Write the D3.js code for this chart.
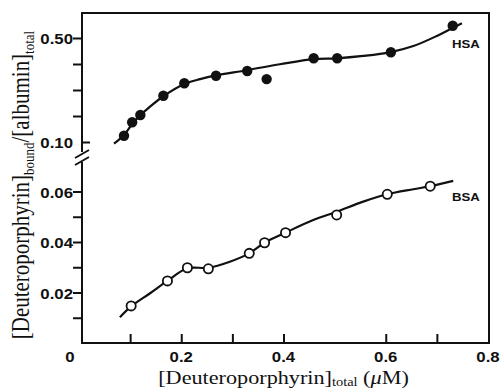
<!DOCTYPE html>
<html><head><meta charset="utf-8">
<script src="https://cdn.jsdelivr.net/npm/d3@7"></script>
<style>html,body{margin:0;padding:0;background:#fff;}svg{display:block;}</style>
</head><body>
<svg id="c" width="502" height="390"></svg>
<script>
// ---- data ----
const hsaX = [0.088, 0.104, 0.120, 0.165, 0.206, 0.268, 0.329, 0.367, 0.459, 0.505, 0.610, 0.731];
const hsaY = [0.124, 0.176, 0.204, 0.278, 0.326, 0.355, 0.373, 0.342, 0.422, 0.422, 0.445, 0.547];
const hsaFitX = [0.0685, 0.088, 0.104, 0.119, 0.139, 0.165, 0.206, 0.237, 0.267, 0.328, 0.393, 0.458, 0.504, 0.556, 0.608, 0.654, 0.700, 0.729, 0.749];
const hsaFitY = [0.0936, 0.127, 0.169, 0.201, 0.236, 0.276, 0.323, 0.342, 0.356, 0.376, 0.399, 0.419, 0.422, 0.431, 0.445, 0.469, 0.508, 0.537, 0.557];
const bsaX = [0.102, 0.173, 0.212, 0.253, 0.333, 0.363, 0.404, 0.504, 0.603, 0.687];
const bsaY = [0.0147, 0.0246, 0.0298, 0.0294, 0.0355, 0.0397, 0.0437, 0.0507, 0.0589, 0.0621];
const bsaFitX = [0.080, 0.102, 0.139, 0.173, 0.212, 0.253, 0.295, 0.333, 0.363, 0.404, 0.458, 0.504, 0.556, 0.603, 0.654, 0.687, 0.732];
const bsaFitY = [0.0102, 0.0145, 0.0197, 0.0246, 0.0296, 0.0298, 0.0322, 0.0355, 0.0397, 0.0437, 0.0487, 0.0520, 0.0560, 0.0589, 0.0609, 0.0621, 0.0642];

const xTickMarks = [0.1, 0.2, 0.3, 0.4, 0.6, 0.7];
const xTickLabels = ["0", "0.2", "0.4", "0.6", "0.8"];
const xTickLabelVals = [0, 0.2, 0.4, 0.6, 0.8];
const yLowTickMarks = [0.01, 0.02, 0.03, 0.04, 0.05, 0.06];
const yLowLabelVals = [0.02, 0.04, 0.06];
const yLowLabels = ["0.02", "0.04", "0.06"];
const yHighTickMarks = [0.2, 0.3, 0.4, 0.5];
const yHighLabelVals = [0.10, 0.50];
const yHighLabels = ["0.10", "0.50"];
const seriesLabels = ["HSA", "BSA"];

// ---- layout ----
const svg = d3.select("#c");
const L = 82, R = 489, T = 13, B = 343;
const x = d3.scaleLinear().domain([0, 0.8]).range([79, 488]);
const yHigh = d3.scaleLinear().domain([0.1, 0.6]).range([142, 12]);
const yLow = d3.scaleLinear().domain([0, 0.07]).range([B, B - 0.07 * 2525]);

const ink = "#111";
const g = svg.append("g");

// frame
g.append("path").attr("d", `M${L},152 L${L},${T} L${R},${T} L${R},${B} L${L},${B} L${L},162`)
  .attr("fill", "none").attr("stroke", ink).attr("stroke-width", 2);
// break marks
[[0, 0], [0, 7]].forEach(([dx, dy]) => {
  g.append("line").attr("x1", 75).attr("y1", 158 + dy).attr("x2", 89).attr("y2", 150 + dy)
    .attr("stroke", ink).attr("stroke-width", 2);
});

// axes ticks via d3.axis
function styleAxis(sel) {
  sel.select(".domain").remove();
  sel.selectAll(".tick line").attr("stroke", ink).attr("stroke-width", 2);
  sel.selectAll(".tick text").remove();
}
g.append("g").attr("transform", `translate(0,${B})`)
  .call(d3.axisBottom(x).tickValues(xTickMarks).tickSize(-9).tickFormat(""))
  .call(styleAxis);
g.append("g").attr("transform", `translate(${L},0)`)
  .call(d3.axisLeft(yLow).tickValues(yLowTickMarks).tickSize(9).tickFormat(""))
  .call(styleAxis);
g.append("g").attr("transform", `translate(${L},0)`)
  .call(d3.axisLeft(yHigh).tickValues(yHighTickMarks).tickSize(9).tickFormat(""))
  .call(styleAxis);
g.append("g").attr("transform", `translate(${L},0)`)
  .call(d3.axisLeft(yHigh).tickValues([0.1]).tickSize(-8).tickFormat(""))
  .call(styleAxis);

// tick labels (Helvetica-like, stretched)
const lblFont = "'Liberation Sans', Arial, sans-serif";
function label(px, py, txt, anchor) {
  g.append("text").attr("transform", `translate(${px},${py}) scale(1.2,1)`)
    .attr("text-anchor", anchor).attr("font-family", lblFont).attr("font-weight", "bold")
    .attr("font-size", 14).attr("fill", ink).text(txt);
}
xTickLabelVals.forEach((v, i) => label(x(v) - (v === 0 ? 9 : 0), 362, xTickLabels[i], "middle"));
yLowLabelVals.forEach((v, i) => label(73, yLow(v) + 6, yLowLabels[i], "end"));
yHighLabelVals.forEach((v, i) => label(73, yHigh(v) + 6, yHighLabels[i], "end"));

// curves
const line = (sx, sy) => d3.line().x(d => x(d[0])).y(d => sy(d[1])).curve(d3.curveCatmullRom.alpha(0.5));
g.append("path").datum(hsaFitX.map((v, i) => [v, hsaFitY[i]]))
  .attr("d", line(x, yHigh)).attr("fill", "none").attr("stroke", ink).attr("stroke-width", 2.2);
g.append("path").datum(bsaFitX.map((v, i) => [v, bsaFitY[i]]))
  .attr("d", line(x, yLow)).attr("fill", "none").attr("stroke", ink).attr("stroke-width", 2.2);

// markers
g.selectAll("circle.h").data(hsaX.map((v, i) => [v, hsaY[i]])).enter().append("circle")
  .attr("cx", d => x(d[0])).attr("cy", d => yHigh(d[1])).attr("r", 5.2).attr("fill", ink);
g.selectAll("circle.b").data(bsaX.map((v, i) => [v, bsaY[i]])).enter().append("circle")
  .attr("cx", d => x(d[0])).attr("cy", d => yLow(d[1])).attr("r", 4.6)
  .attr("fill", "#fff").attr("stroke", ink).attr("stroke-width", 1.8);

// series labels
function sLabel(px, py, txt) {
  g.append("text").attr("transform", `translate(${px},${py}) scale(1.2,1)`)
    .attr("font-family", lblFont).attr("font-weight", "bold").attr("font-size", 11)
    .attr("fill", ink).text(txt);
}
sLabel(452, 48, seriesLabels[0]);
sLabel(452, 201, seriesLabels[1]);

// axis titles (Times-like)
const serif = "'Liberation Serif', 'Times New Roman', serif";
const xt = g.append("text").attr("transform", `translate(${x(0.4)},384) scale(1.2,1)`)
  .attr("text-anchor", "middle").attr("font-family", serif).attr("font-size", 18.5).attr("fill", ink);
xt.append("tspan").text("[Deuteroporphyrin]");
xt.append("tspan").attr("font-size", 12).attr("dy", 2).text("total");
xt.append("tspan").attr("dy", -2).text(" (");
xt.append("tspan").attr("font-style", "italic").text("μ");
xt.append("tspan").text("M)");

const yt = g.append("text").attr("transform", `translate(29,185) scale(1.15,1) rotate(-90)`)
  .attr("text-anchor", "middle").attr("font-family", serif).attr("font-size", 21).attr("fill", ink);
yt.append("tspan").text("[Deuteroporphyrin]");
yt.append("tspan").attr("font-size", 13).attr("dy", 4).text("bound");
yt.append("tspan").attr("dy", -4).text("/[albumin]");
yt.append("tspan").attr("font-size", 13).attr("dy", 4).text("total");
</script>
</body></html>
